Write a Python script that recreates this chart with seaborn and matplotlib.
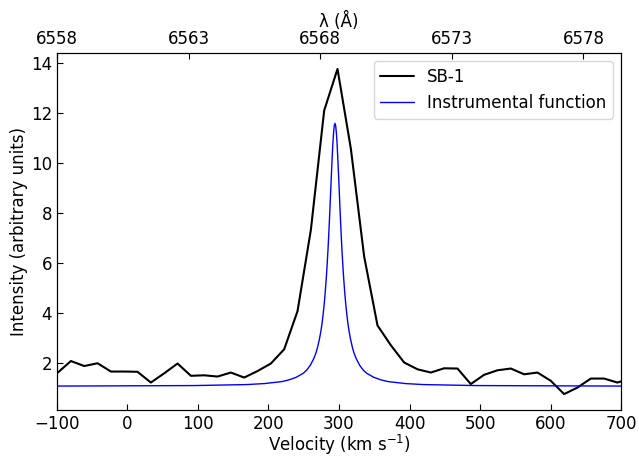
import numpy as np
import pandas as pd
import matplotlib
matplotlib.use("Agg")
import matplotlib.pyplot as plt
import seaborn as sns

# SB-1 observed profile
sb1_velocity = [-99.0, -80.1, -61.2, -42.3, -23.4, -4.5, 14.4, 33.3, 52.2, 71.1,
                90.0, 108.9, 127.8, 146.7, 165.6, 184.5, 203.4, 222.3, 241.2, 260.1,
                279.0, 297.9, 316.8, 335.7, 354.6, 373.5, 392.4, 411.3, 430.2, 449.1,
                468.0, 486.9, 505.8, 524.7, 543.6, 562.5, 581.4, 600.3, 619.2, 638.1,
                657.0, 675.9, 694.8, 713.7]
sb1_intensity = [1.62, 2.09, 1.89, 2.00, 1.67, 1.67, 1.66, 1.23, 1.60, 1.99,
                 1.50, 1.52, 1.47, 1.63, 1.43, 1.69, 1.99, 2.56, 4.08, 7.32,
                 12.09, 13.75, 10.57, 6.26, 3.51, 2.72, 2.03, 1.76, 1.63, 1.80,
                 1.79, 1.17, 1.54, 1.72, 1.79, 1.56, 1.63, 1.30, 0.77, 1.03,
                 1.39, 1.39, 1.23, 1.40]

# Instrumental function
inst_velocity = [-100.0, 94.3, 169.3, 194.3, 219.3, 229.3, 239.3, 249.3, 254.3, 259.3,
                 264.3, 267.3, 269.3, 272.3, 274.3, 275.8, 277.3, 278.8, 280.3, 282.3,
                 283.3, 284.3, 285.3, 286.3, 287.3, 288.3, 289.3, 290.3, 291.3, 292.3,
                 293.3, 294.3, 295.3, 296.3, 297.3, 298.3, 299.3, 300.3, 301.3, 302.3,
                 303.3, 304.3, 305.3, 306.3, 308.3, 309.8, 311.3, 312.8, 314.3, 316.3,
                 319.3, 321.3, 324.3, 329.3, 334.3, 339.3, 349.3, 359.3, 369.3, 394.3,
                 419.3, 494.3, 700.0]
inst_intensity = [1.09, 1.11, 1.15, 1.19, 1.27, 1.34, 1.44, 1.60, 1.73, 1.92,
                  2.19, 2.41, 2.60, 2.97, 3.28, 3.56, 3.90, 4.30, 4.77, 5.53,
                  5.99, 6.48, 7.03, 7.63, 8.26, 8.92, 9.58, 10.20, 10.76, 11.20,
                  11.48, 11.58, 11.48, 11.20, 10.76, 10.20, 9.58, 8.92, 8.26, 7.63,
                  7.03, 6.48, 5.99, 5.53, 4.77, 4.30, 3.90, 3.56, 3.28, 2.97,
                  2.60, 2.41, 2.19, 1.92, 1.73, 1.60, 1.44, 1.34, 1.27, 1.19,
                  1.15, 1.11, 1.09]

lambda_ticks = [6558, 6563, 6568, 6573, 6578]

sns.set_style("ticks")
plt.rcParams.update({
    "font.family": ["DejaVu Sans"],
    "font.size": 12,
    "xtick.direction": "in",
    "ytick.direction": "in",
    "axes.edgecolor": "black",
    "xtick.color": "black",
    "ytick.color": "black",
    "axes.labelcolor": "black",
    "text.color": "black",
})

fig = plt.figure(figsize=(6.39, 4.58), dpi=100)
ax = fig.add_axes([0.089, 0.104, 0.883, 0.781])

df_sb = pd.DataFrame({"v": sb1_velocity, "I": sb1_intensity})
df_in = pd.DataFrame({"v": inst_velocity, "I": inst_intensity})

sns.lineplot(data=df_sb, x="v", y="I", ax=ax, color="black", linewidth=1.5,
             label="SB-1", estimator=None, sort=False)
sns.lineplot(data=df_in, x="v", y="I", ax=ax, color="blue", linewidth=1.0,
             label="Instrumental function", estimator=None, sort=False)

ax.set_xlim(-100, 700)
ax.set_ylim(0.12, 14.40)
ax.set_xticks([-100, 0, 100, 200, 300, 400, 500, 600, 700])
ax.set_yticks([2, 4, 6, 8, 10, 12, 14])
ax.set_xlabel("Velocity (km s$^{-1}$)", fontsize=12, labelpad=0)
ax.set_ylabel("Intensity (arbitrary units)", fontsize=12, labelpad=2)
ax.tick_params(labelsize=12, length=4, width=0.8)
for s in ax.spines.values():
    s.set_linewidth(0.8)

ax2 = ax.twiny()
ax2.set_xlim(6558, 6579.43)
ax2.set_xticks(lambda_ticks)
ax2.set_xlabel("λ (Å)", fontsize=12, labelpad=2)
ax2.tick_params(labelsize=12, length=4, width=0.8, direction="in")

leg = ax.legend(loc="upper right", fontsize=12, frameon=True)

fig.savefig("out.png", dpi=100)
